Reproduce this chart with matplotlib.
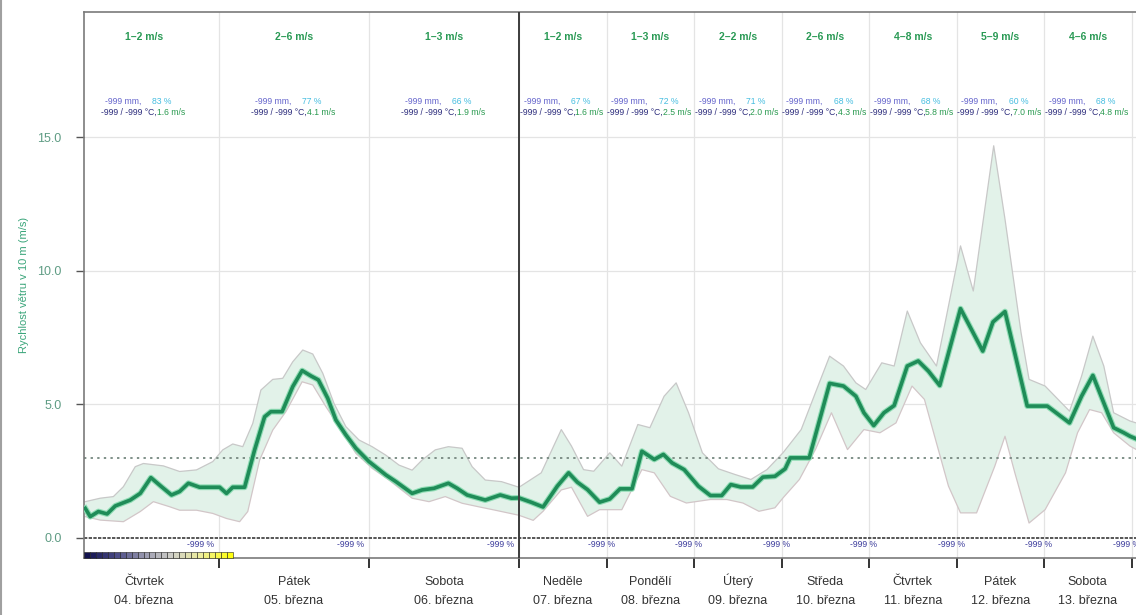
import numpy as np
import matplotlib
matplotlib.use('Agg')
import matplotlib.pyplot as plt
from matplotlib.colors import LinearSegmentedColormap
from matplotlib.lines import Line2D

plt.rcParams['font.family'] = ['Liberation Sans', 'DejaVu Sans']

# hodiny od 04.03. 00:00, rychlost vetru v 10 m (m/s)
main_t = [2.6, 3.4, 4.7, 6.1, 7.4, 9.8, 11.4, 13.1, 14.8, 16.4, 17.7, 19.1, 20.9, 24.1,
          25.2, 26.2, 28.1, 29.7, 31.3, 32.3, 34.1, 35.8, 37.3, 38.7, 39.9, 41.4, 42.7,
          44.3, 45.9, 48.0, 50.7, 52.3, 54.9, 56.5, 58.4, 60.7, 62.1, 63.7, 66.6, 69.0,
          70.8, 72.0, 75.3, 78.6, 82.5, 85.6, 88.0, 90.8, 94.1, 96.9, 99.7, 103.0, 105.7,
          109.1, 111.6, 114.0, 117.3, 121.2, 124.5, 127.6, 130.1, 132.8, 136.1, 138.9,
          142.2, 145.0, 146.4, 151.6, 157.2, 161.0, 164.4, 166.6, 169.3, 172.1, 174.9,
          178.5, 181.5, 184.3, 187.4, 193.1, 199.2, 202.0, 205.3, 211.4, 216.9, 223.0,
          226.3, 229.4, 235.1, 237.9, 239.6, 241.5]
main_v = [1.11, 0.80, 0.99, 0.90, 1.20, 1.42, 1.67, 2.26, 1.92, 1.61, 1.74, 2.05, 1.90, 1.90,
          1.67, 1.90, 1.90, 3.30, 4.54, 4.73, 4.73, 5.67, 6.27, 6.07, 5.92, 5.23, 4.42,
          3.86, 3.36, 2.86, 2.36, 2.11, 1.67, 1.80, 1.86, 2.05, 1.86, 1.61, 1.42, 1.61,
          1.49, 1.50, 1.34, 1.16, 1.94, 2.44, 2.09, 1.81, 1.34, 1.46, 1.84, 1.84, 3.25,
          2.94, 3.13, 2.81, 2.56, 1.94, 1.59, 1.59, 2.00, 1.91, 1.91, 2.28,
          2.31, 2.59, 3.00, 3.00, 5.79, 5.69, 5.31, 4.69, 4.21, 4.69, 4.96,
          6.44, 6.63, 6.25, 5.71, 8.59, 7.00, 8.09, 8.48, 4.94, 4.94, 4.31,
          5.31, 6.09, 4.13, 3.94, 3.81, 3.70]

upper_t = [2.6, 5.0, 7.1, 8.7, 10.6, 11.9, 15.1, 17.7, 20.4, 23.0, 24.6, 26.2, 27.8, 29.4,
           30.7, 32.6, 34.2, 35.8, 37.4, 39.0, 40.6, 42.4, 44.3, 46.4, 48.5, 50.7, 52.8,
           54.9, 56.5, 58.6, 60.7, 62.9, 64.5, 66.6, 69.2, 72.0, 78.1, 83.6, 86.4, 89.7,
           92.5, 96.9, 100.2, 104.6, 107.9, 111.8, 115.1, 118.5, 122.3, 126.7, 131.2,
           135.6, 140.0, 144.4, 149.4, 153.3, 157.2, 161.0, 164.4, 167.1, 171.5, 174.9,
           178.5, 182.1, 186.5, 189.8, 193.1, 196.6, 202.2, 205.3, 209.7, 211.9, 216.3,
           223.0, 226.3, 229.4, 232.4, 235.1, 239.6, 241.5]
upper_v = [1.36, 1.49, 1.55, 1.92, 2.67, 2.79, 2.70, 2.49, 2.55, 2.86, 3.30, 3.52, 3.42, 4.29,
           5.54, 5.94, 5.98, 6.60, 7.04, 6.89, 6.17, 5.04, 4.17, 3.67, 3.42, 3.10, 2.73,
           2.54, 2.92, 3.30, 3.42, 3.36, 2.67, 2.17, 2.11, 1.90, 2.44, 4.06, 3.44, 2.56,
           2.50, 3.19, 2.69, 4.25, 4.13, 5.31, 5.81, 4.69, 3.19, 2.59, 2.38,
           2.19, 2.56, 3.19, 4.06, 5.44, 6.81, 6.44, 5.81, 5.56, 6.56, 6.44,
           8.50, 7.31, 6.44, 8.69, 10.94, 9.25, 14.69, 11.94, 7.69, 5.94, 5.69,
           4.75, 6.06, 7.56, 6.44, 4.69, 4.38, 4.30]

lower_t = [2.6, 5.0, 8.7, 11.4, 13.5, 16.1, 17.7, 20.4, 23.0, 25.2, 27.3, 28.6, 30.5, 32.6,
           34.7, 37.3, 39.0, 41.1, 43.2, 45.9, 48.5, 51.2, 54.9, 57.6, 60.2, 62.9, 65.5,
           68.2, 72.0, 75.9, 78.6, 83.6, 86.4, 90.8, 94.1, 100.2, 105.7, 109.1, 113.5,
           117.9, 124.5, 129.0, 133.4, 137.8, 142.2, 144.4, 148.9, 153.3, 157.7, 162.1,
           166.6, 171.0, 175.4, 179.8, 183.2, 186.5, 189.8, 193.1, 197.5, 202.5, 205.3,
           208.0, 211.9, 216.3, 221.9, 225.2, 228.5, 231.8, 235.1, 239.6, 241.5]
lower_v = [0.80, 0.67, 0.61, 0.99, 1.36, 1.17, 1.04, 1.04, 0.92, 0.73, 0.61, 0.99, 2.92, 4.04,
           4.73, 5.85, 5.73, 4.92, 4.17, 3.17, 2.61, 2.17, 1.49, 1.36, 1.55, 1.30, 1.17,
           1.04, 0.85, 0.66, 1.00, 1.80, 1.90, 0.81, 1.06, 1.06, 2.56, 2.44, 1.56,
           1.31, 1.44, 1.44, 1.31, 1.00, 1.13, 1.50, 2.19, 3.31, 4.69, 3.31,
           4.06, 3.94, 4.31, 5.69, 5.19, 3.56, 1.94, 0.94, 0.94, 2.69, 3.81,
           2.44, 0.56, 1.06, 2.44, 3.94, 4.81, 4.69, 3.94, 3.44, 3.30]

day_names = ['Čtvrtek', 'Pátek', 'Sobota', 'Neděle', 'Pondělí', 'Úterý', 'Středa',
             'Čtvrtek', 'Pátek', 'Sobota']
day_dates = ['04. března', '05. března', '06. března', '07. března', '08. března',
             '09. března', '10. března', '11. března', '12. března', '13. března']
wind_ranges = ['1–2 m/s', '2–6 m/s', '1–3 m/s', '1–2 m/s', '1–3 m/s', '2–2 m/s',
               '2–6 m/s', '4–8 m/s', '5–9 m/s', '4–6 m/s']
humidity = [83, 77, 66, 67, 72, 71, 68, 68, 60, 68]
wind_mean = [1.6, 4.1, 1.9, 1.6, 2.5, 2.0, 4.3, 5.8, 7.0, 4.8]
threshold = 3.0


# prvni tri dny hodinove (150 px/den), dalsi dny hustsi (87.5 px/den)
def fwd(t):
    t = np.asarray(t, dtype=float)
    return np.where(t < 72, t * 150 / 24, 450 + (t - 72) * 87.5 / 24)


def inv(p):
    p = np.asarray(p, dtype=float)
    return np.where(p < 450, p * 24 / 150, 72 + (p - 450) * 24 / 87.5)


fig = plt.figure(figsize=(11.36, 6.15), dpi=100)
ax = fig.add_axes([84 / 1136, 57 / 615, 1061 / 1136, 546 / 615])
ax.set_xscale('function', functions=(fwd, inv))
ax.set_xlim(2.4, 243.7)
ax.set_ylim(-0.75, 19.7)

day_edges = np.arange(24, 241, 24)
day_centers = np.arange(12, 240, 24)

# mrizka
for x in day_edges:
    ax.axvline(x, color='#e4e4e4', lw=0.9, zorder=0)
for y in [5, 10, 15]:
    ax.axhline(y, color='#e4e4e4', lw=0.9, zorder=0)

# pasmo rozptylu
ax.fill(np.concatenate([upper_t, lower_t[::-1]]),
        np.concatenate([upper_v, lower_v[::-1]]),
        facecolor='#e2f2e9', edgecolor='none', zorder=1)
ax.plot(upper_t, upper_v, color='#c8c8c8', lw=0.9, zorder=2)
ax.plot(lower_t, lower_v, color='#d2c6c8', lw=0.9, zorder=2)

ax.axhline(threshold, color='#7f9088', lw=1.4, ls=(0, (1.2, 2.2)), zorder=2)
ax.axhline(0, color='#3a3a3a', lw=1.2, ls=(0, (2, 0.8)), zorder=2)

ax.plot(main_t, main_v, color='#8fdcb4', lw=4.2, zorder=3, solid_joinstyle='round')
ax.plot(main_t, main_v, color='#1f8c58', lw=2.6, zorder=4, solid_joinstyle='round')

ax.axvline(72, color='#3c3c3c', lw=1.4, zorder=5)

# barevna skala vlevo dole
cb_cmap = LinearSegmentedColormap.from_list(
    'cb', ['#12124e', '#4a4a86', '#9a9ab0', '#d0d0c8', '#eeee9a', '#ffff10'])
n_cells = 25
cb_edges = np.linspace(fwd(2.4), fwd(26.2), n_cells + 1)
cb_left = inv(cb_edges[:-1])
cb_width = inv(cb_edges[1:]) - cb_left
ax.bar(cb_left, 0.24, width=cb_width, bottom=-0.75, align='edge',
       color=[cb_cmap(i / (n_cells - 1)) for i in range(n_cells)],
       edgecolor='#202020', linewidth=0.4, zorder=6, clip_on=False)

# popisky nad grafem
xt = ax.get_xaxis_transform()
for i, c in enumerate(day_centers):
    ax.text(c, 0.954, wind_ranges[i], transform=xt, ha='center', va='center',
            fontsize=7.5, fontweight='bold', color='#2a9a55')
    ax.annotate('-999 mm,', (c, 0.836), xycoords=xt, xytext=(-2, 0),
                textcoords='offset points', ha='right', va='center',
                fontsize=6.2, color='#6464cc')
    ax.annotate(f'{humidity[i]} %', (c, 0.836), xycoords=xt, xytext=(6, 0),
                textcoords='offset points', ha='left', va='center',
                fontsize=6.2, color='#45bde0')
    ax.annotate('-999 / -999 °C,', (c, 0.816), xycoords=xt, xytext=(9, 0),
                textcoords='offset points', ha='right', va='center',
                fontsize=6.2, color='#2c2c7c')
    ax.annotate(f'{wind_mean[i]:.1f} m/s', (c, 0.816), xycoords=xt, xytext=(9, 0),
                textcoords='offset points', ha='left', va='center',
                fontsize=6.2, color='#2a9a50')
    # nazev dne a datum pod osou
    ax.text(c, -0.0495, day_names[i], transform=xt, ha='center', va='baseline',
            fontsize=9, color='#333333', clip_on=False)
    ax.text(c, -0.084, day_dates[i], transform=xt, ha='center', va='baseline',
            fontsize=9, color='#333333', clip_on=False)

# procenta u spodni hrany
for e in day_edges:
    pos = e - 3 if e <= 72 else e - 1.5
    ax.text(pos, 0.024, '-999 %', transform=xt, ha='center', va='center',
            fontsize=6.2, color='#3c3c9c')

# osy
ax.set_xticks(day_edges)
ax.set_xticklabels([])
ax.tick_params(axis='x', which='major', length=7, width=1.4, color='#333333', direction='out')
ax.tick_params(axis='x', which='minor', length=0)

ax.set_yticks([0, 5, 10, 15])
ax.set_yticklabels(['0.0', '5.0', '10.0', '15.0'])
ax.tick_params(axis='y', length=6, width=1, color='#555555', labelsize=9,
               labelcolor='#5f9c84', pad=10)
ax.set_ylabel('Rychlost větru v 10 m (m/s)', fontsize=8, color='#3aa57a', labelpad=6)

for s in ['top', 'left', 'bottom']:
    ax.spines[s].set_color('#7a7a7a')
    ax.spines[s].set_linewidth(1.2)
ax.spines['right'].set_visible(False)

fig.add_artist(Line2D([0.001, 0.001], [0, 1], color='#a0a0a0', lw=1.5))

fig.savefig('out.png', dpi=100)
